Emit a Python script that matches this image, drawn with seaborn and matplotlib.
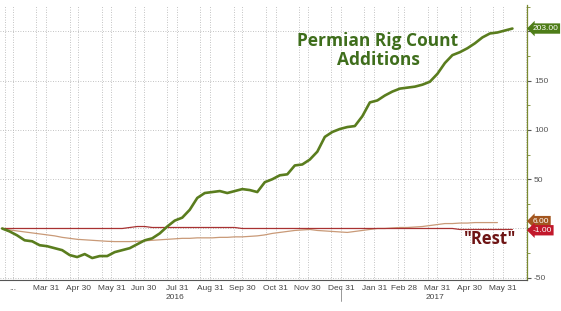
import numpy as np
import pandas as pd
import matplotlib
matplotlib.use("Agg")
import matplotlib.pyplot as plt
import matplotlib.dates as mdates
import matplotlib.transforms as mtransforms
from matplotlib.ticker import FixedLocator, MultipleLocator
import seaborn as sns

# ---------------- data (weekly) ----------------
dates = pd.date_range("2016-02-19", "2017-06-09", freq="7D")

permian = [0, -3, -7, -12, -13, -17, -18, -20, -22, -27,
           -29, -26, -30, -28, -28, -24, -22, -20, -16, -12,
           -10, -5, 2, 8, 11, 19, 31, 36, 37, 38,
           36, 38, 40, 39, 37, 47, 50, 54, 55, 64,
           65, 70, 78, 93, 98, 101, 103, 104, 114, 128,
           130, 135, 139, 142, 143, 144, 146, 149, 157, 168,
           176, 179, 183, 188, 194, 198, 199, 201, 203]

other = [0, -1.5, -2.5, -3.5, -4.5, -5.5, -6.5, -7.5, -9, -10,
         -11, -11.5, -12, -12.5, -13, -13.3, -13.3, -13.3, -13, -12.5,
         -12, -11.5, -11, -10.5, -10, -10, -9.5, -9.5, -9.5, -9,
         -9, -8.5, -8.5, -8, -7.5, -6.5, -5, -4, -3, -2,
         -1.5, -1, -2, -2.5, -3, -3.5, -4, -3, -2, -1,
         0, 0, 0.5, 1, 1, 1.5, 2, 3, 4, 5,
         5, 5.5, 5.5, 6, 6, 6, 6]

rest = [0] * 17 + [1, 2, 2] + [1] * 12 + [0] * 29 + [-1] * 8

y_ticks = [-50, 0, 50, 100, 150, 200]
y_tick_labels = ["-50", "", "50", "100", "150", ""]
last_labels = [("203.00", 203, "#4e7d18"), ("6.00", 7.5, "#a3561f"), ("-1.00", -1.8, "#c2182b")]

# ---------------- style ----------------
sns.set_theme(style="white")
plt.rcParams["font.family"] = ["Liberation Sans", "DejaVu Sans"]

fig = plt.figure(figsize=(5.61, 3.11), dpi=100)
ax = fig.add_axes([0, 31 / 311, 527 / 561, 275 / 311])

sns.lineplot(x=dates[:len(other)], y=other, ax=ax, color="#c99a78", lw=0.9)
sns.lineplot(x=dates, y=rest, ax=ax, color="#a83232", lw=0.9)
sns.lineplot(x=dates, y=permian, ax=ax, color="#5a7d1e", lw=1.9)

ax.set_xlim(pd.Timestamp("2016-02-17"), pd.Timestamp("2017-06-22 14:00"))
ax.set_ylim(-52.3, 226.9)
ax.set_xlabel("")
ax.set_ylabel("")

# x axis ticks at month ends
month_ends = pd.date_range("2016-02-29", "2017-05-31", freq=pd.offsets.MonthEnd())
ax.xaxis.set_major_locator(FixedLocator(mdates.date2num(month_ends)))
labels = ["..."] + [d.strftime("%b %d").replace(" 0", " ") for d in month_ends[1:]]
ax.set_xticklabels(labels)
ax.xaxis.set_minor_locator(mdates.DayLocator(bymonthday=22))
ax.tick_params(axis="x", which="major", labelsize=6, length=2, pad=1.5,
               colors="#444444", width=0.6)
ax.tick_params(axis="x", which="minor", length=0)

# y axis on the right
ax.yaxis.tick_right()
ax.yaxis.set_major_locator(FixedLocator(y_ticks))
ax.set_yticklabels(y_tick_labels)
ax.yaxis.set_minor_locator(MultipleLocator(25))
ax.tick_params(axis="y", which="major", labelsize=6, length=3, pad=2,
               colors="#555555", width=0.8, direction="out")
ax.tick_params(axis="y", which="minor", length=2, width=0.6, color="#7a8a30")

# grid
ax.grid(True, which="major", axis="both", color="#b0b0b0", lw=0.6, linestyle=(0, (1, 2)))
ax.grid(True, which="minor", axis="x", color="#b0b0b0", lw=0.6, linestyle=(0, (1, 2)))

for s in ["left", "top"]:
    ax.spines[s].set_visible(False)
ax.spines["right"].set_color("#7a8a30")
ax.spines["right"].set_linewidth(0.9)
ax.spines["bottom"].set_color("#555555")
ax.spines["bottom"].set_linewidth(0.8)

# year labels & separator
trans = mtransforms.blended_transform_factory(ax.transData, ax.transAxes)
ax.text(pd.Timestamp("2016-07-29"), -0.062, "2016", transform=trans, ha="center", va="center",
        fontsize=6, color="#444444")
ax.text(pd.Timestamp("2017-03-29"), -0.062, "2017", transform=trans, ha="center", va="center",
        fontsize=6, color="#444444")
ax.plot([pd.Timestamp("2016-12-31")] * 2, [-0.025, -0.075], transform=trans, color="#888888",
        lw=0.6, clip_on=False)

# last value boxes
ytrans = ax.get_yaxis_transform()
for txt, val, col in last_labels:
    ax.annotate(txt, xy=(1.0, val), xycoords=ytrans, xytext=(4, 0), textcoords="offset points",
                ha="left", va="center", fontsize=6, color="white", annotation_clip=False,
                bbox=dict(boxstyle="larrow,pad=0.2", fc=col, ec="none"))

# annotations
ax.text(378 / 527, 0.835, "Permian Rig Count\nAdditions", transform=ax.transAxes,
        ha="center", va="center", multialignment="center", fontsize=12.5, fontweight="bold",
        color="#3f6e1c", family=["Open Sans", "DejaVu Sans"], linespacing=1.1)
ax.text(490 / 527, 0.149, "\"Rest\"", transform=ax.transAxes, ha="center", va="center",
        fontsize=12, fontweight="bold", color="#6e1414", family=["Open Sans", "DejaVu Sans"])

fig.savefig("out.png", dpi=100)
